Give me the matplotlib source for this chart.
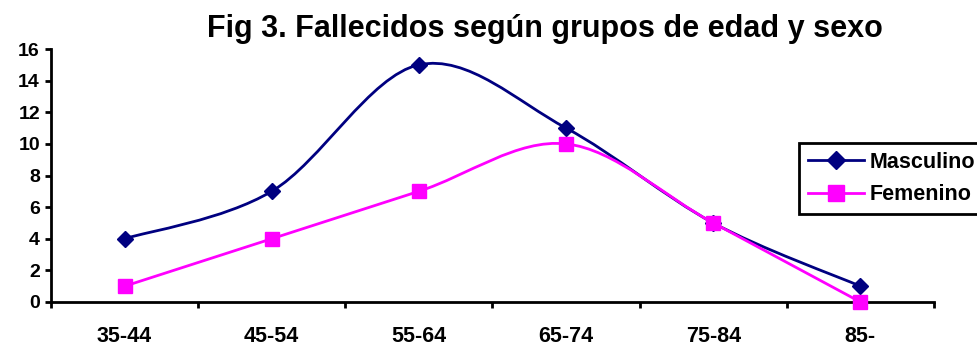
import matplotlib.pyplot as plt
import numpy as np
from matplotlib.path import Path
from matplotlib.patches import PathPatch
from matplotlib.lines import Line2D

categories = ["35-44", "45-54", "55-64", "65-74", "75-84", "85-"]
masculino = [4, 7, 15, 11, 5, 1]
femenino = [1, 4, 7, 10, 5, 0]

plt.rcParams['font.family'] = ['Liberation Sans', 'DejaVu Sans']
plt.rcParams['font.weight'] = 'bold'


def smooth_path(xs, ys):
    # Excel-style smoothed line: cubic Bezier between neighbouring points
    pts = np.column_stack([xs, ys]).astype(float)
    n = len(pts)
    verts = [pts[0]]
    codes = [Path.MOVETO]
    for i in range(n - 1):
        p_prev = pts[i - 1] if i > 0 else pts[i]
        p_next2 = pts[i + 2] if i + 2 < n else pts[i + 1]
        c1 = pts[i] + (pts[i + 1] - p_prev) / 6
        c2 = pts[i + 1] - (p_next2 - pts[i]) / 6
        verts += [c1, c2, pts[i + 1]]
        codes += [Path.CURVE4] * 3
    return Path(verts, codes)


fig = plt.figure(figsize=(9.77, 3.47), dpi=100)
ax = fig.add_axes([51 / 977, 1 - 302 / 347, (934 - 51) / 977, (302 - 49) / 347])

x = np.arange(len(categories))
series = [
    ("Masculino", masculino, "#000080", "D", 8),
    ("Femenino", femenino, "#FF00FF", "s", 10),
]
handles = []
for name, vals, col, mk, ms in series:
    ax.add_patch(PathPatch(smooth_path(x, vals), fill=False, edgecolor=col, lw=2, zorder=2))
    ax.plot(x, vals, ls="none", marker=mk, ms=ms, color=col, zorder=3, clip_on=False)
    handles.append(Line2D([], [], color=col, lw=2, marker=mk, ms=ms + 1.5))

ax.set_xlim(-0.5, len(categories) - 0.5)
ax.set_ylim(0, 16)
ax.set_yticks(range(0, 17, 2))
ax.set_xticks(np.arange(-0.5, len(categories), 1))
ax.set_xticklabels([])
ax.set_xticks(x, minor=True)
ax.set_xticklabels(categories, minor=True)
ax.tick_params(axis='x', which='minor', length=0, pad=17, labelsize=15.5)
ax.tick_params(axis='x', which='major', length=4, width=2)
ax.tick_params(axis='y', length=4, width=2, labelsize=14, pad=4)
for lbl in ax.get_xticklabels(minor=True) + ax.get_yticklabels():
    lbl.set_fontweight('bold')
for s in ["top", "right"]:
    ax.spines[s].set_visible(False)
for s in ["left", "bottom"]:
    ax.spines[s].set_linewidth(2)

fig.text(545 / 977, 1 - 29 / 347, "Fig 3. Fallecidos según grupos de edad y sexo",
         ha="center", va="center", fontsize=22, fontweight="bold")

leg = fig.legend(handles, [s[0] for s in series], loc="upper left",
                 bbox_to_anchor=(799 / 977, 1 - 143 / 347), prop={'size': 15.5, 'weight': 'bold'},
                 frameon=True, fancybox=False, edgecolor="black", framealpha=1,
                 handlelength=2.6, borderpad=0.4, labelspacing=0.55, handletextpad=0.3,
                 borderaxespad=0)
leg.get_frame().set_linewidth(2)

fig.savefig("out.png", dpi=100)
